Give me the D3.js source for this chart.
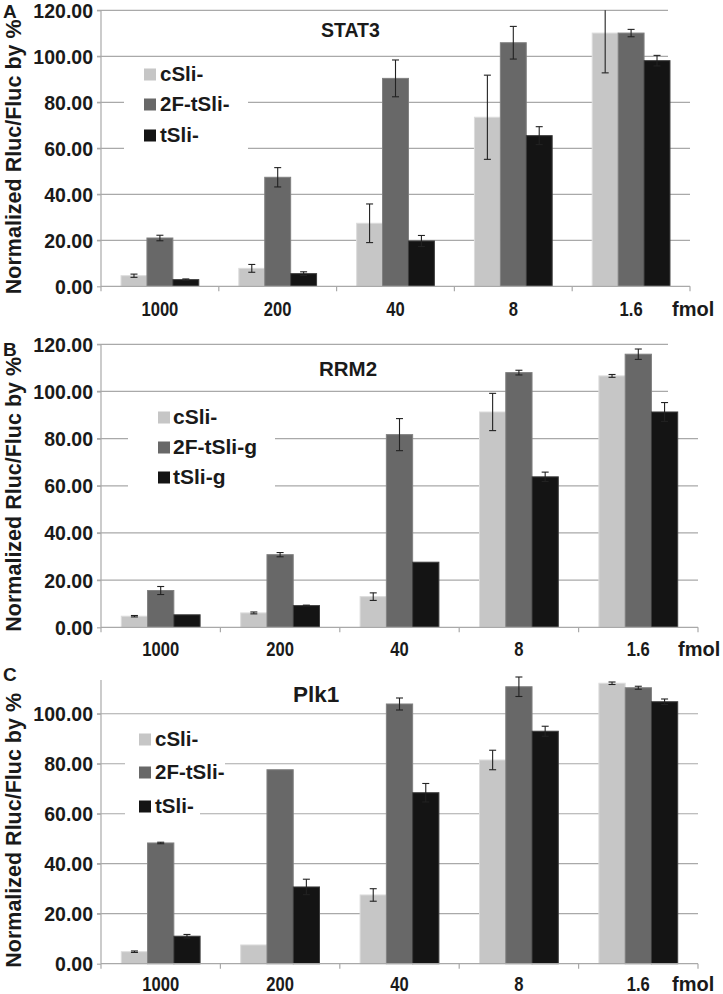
<!DOCTYPE html>
<html>
<head>
<meta charset="utf-8">
<script src="https://cdn.jsdelivr.net/npm/d3@7/dist/d3.min.js"></script>
<style>
  html, body { margin: 0; padding: 0; background: #fff; }
  svg { display: block; }
  text { font-family: "Liberation Sans", Arial, "DejaVu Sans", sans-serif; font-weight: bold; fill: #1a1a1a; }
</style>
</head>
<body>
<svg id="chart" width="723" height="994"></svg>
<script>
// ---------------- DATA ----------------
const categories = ["1000", "200", "40", "8", "1.6"];
const unitLabel = "fmol";
const yTicksAB = [0, 20, 40, 60, 80, 100, 120];
const yTicksC = [0, 20, 40, 60, 80, 100];
const yTitle = "Normalized Rluc/Fluc by %";

// Panel A: STAT3
const seriesA = ["cSli-", "2F-tSli-", "tSli-"];
const valuesA_cSli = [4.6, 7.8, 27.4, 73.5, 110.1];
const errA_cSli    = [0.7, 1.7, 8.4, 18.3, 17.3];
const valuesA_2F   = [21.0, 47.4, 90.4, 105.9, 110.1];
const errA_2F      = [1.2, 4.2, 8.0, 7.1, 1.6];
const valuesA_tSli = [2.9, 5.5, 19.7, 65.5, 98.1];
const errA_tSli    = [0.3, 0.8, 2.4, 3.9, 2.3];

// Panel B: RRM2
const seriesB = ["cSli-", "2F-tSli-g", "tSli-g"];
const valuesB_cSli = [4.7, 6.1, 13.0, 91.3, 106.6];
const errB_cSli    = [0.3, 0.4, 1.6, 7.9, 0.6];
const valuesB_2F   = [15.6, 30.8, 81.7, 108.0, 115.8];
const errB_2F      = [1.7, 0.9, 6.8, 1.0, 2.2];
const valuesB_tSli = [5.3, 9.2, 27.6, 63.8, 91.3];
const errB_tSli    = [0, 0.2, 0, 2.0, 4.0];

// Panel C: Plk1
const seriesC = ["cSli-", "2F-tSli-", "tSli-"];
const valuesC_cSli = [4.8, 7.5, 27.5, 81.5, 112.2];
const errC_cSli    = [0.3, 0, 2.5, 3.9, 0.5];
const valuesC_2F   = [48.3, 77.6, 103.9, 110.8, 110.4];
const errC_2F      = [0.3, 0, 2.4, 3.9, 0.6];
const valuesC_tSli = [11.0, 30.7, 68.4, 93.0, 104.8];
const errC_tSli    = [0.7, 3.1, 3.7, 2.0, 1.1];

// ---------------- STYLE / LAYOUT ----------------
const fills   = ["#c6c6c6", "#686868", "#141414"];
const strokes = ["#dcdcdc", "#808080", "#3c3c3c"];
const gridColor = "#a9a9a9";

const panels = [
  { letter: "A", title: "STAT3", series: seriesA,
    values: [valuesA_cSli, valuesA_2F, valuesA_tSli], errs: [errA_cSli, errA_2F, errA_tSli],
    ticks: yTicksAB, ymax: 120, errClip: 120, top: 10.3, bottom: 286.3, left: 101, right: 690, shortTopEnd: 668,
    letterY: 18, titleX: 321, titleY: 37, titleSize: 19.5, labelDy: 29.5,
    leg: { box: [[124, 60, 248, 150]], swX: 144, txtX: 160, rows: [81, 111, 142], size: 20.5 },
    fmolX: 672 },
  { letter: "B", title: "RRM2", series: seriesB,
    values: [valuesB_cSli, valuesB_2F, valuesB_tSli], errs: [errB_cSli, errB_2F, errB_tSli],
    ticks: yTicksAB, ymax: 120, errClip: 130, top: 344.3, bottom: 627.3, left: 101, right: 698, shortTopEnd: 668,
    letterY: 356, titleX: 319, titleY: 376, titleSize: 20.5, labelDy: 28.5,
    leg: { box: [[128, 400, 275, 490]], swX: 158, txtX: 173, rows: [424, 454, 484], size: 21 },
    fmolX: 678 },
  { letter: "C", title: "Plk1", series: seriesC,
    values: [valuesC_cSli, valuesC_2F, valuesC_tSli], errs: [errC_cSli, errC_2F, errC_tSli],
    ticks: yTicksC, ymax: 113.5, errClip: 130, top: 680, bottom: 963.7, left: 101, right: 698, shortTopEnd: null,
    letterY: 681, titleX: 293, titleY: 702, titleSize: 22.5, labelDy: 27,
    leg: { box: [[125, 720, 225, 790], [125, 790, 200, 818]], swX: 139, txtX: 155, rows: [746, 779, 813], size: 20.5 },
    fmolX: 672 }
];

const svg = d3.select("#chart");

panels.forEach(p => {
  const g = svg.append("g");
  const x = d3.scaleBand().domain(categories).range([p.left, p.right]).paddingInner(0).paddingOuter(0);
  const y = d3.scaleLinear().domain([0, p.ymax]).range([p.bottom, p.top]);
  const bw = x.bandwidth() * 0.22;
  const groupOffset = (x.bandwidth() - 3 * bw) / 2;

  // gridlines
  p.ticks.filter(t => t > 0).forEach(t => {
    const end = (p.shortTopEnd && t >= 100) ? p.shortTopEnd : p.right;
    g.append("line")
      .attr("x1", p.left - 4).attr("x2", end)
      .attr("y1", y(t)).attr("y2", y(t))
      .attr("stroke", gridColor).attr("stroke-width", 1.2);
  });

  // legend box (covers gridlines)
  p.leg.box.forEach(b => {
    g.append("rect").attr("x", b[0]).attr("y", b[1]).attr("width", b[2] - b[0]).attr("height", b[3] - b[1])
      .attr("fill", "#fff");
  });

  // bars
  p.values.forEach((vals, si) => {
    g.selectAll(null).data(vals).enter().append("rect")
      .attr("x", (d, i) => x(categories[i]) + groupOffset + si * bw)
      .attr("y", d => y(d))
      .attr("width", bw)
      .attr("height", d => y(0) - y(d))
      .attr("fill", fills[si])
      .attr("stroke", strokes[si]).attr("stroke-width", 1);
  });

  // error bars
  p.values.forEach((vals, si) => {
    vals.forEach((v, i) => {
      const e = p.errs[si][i];
      if (!e) return;
      const cx = x(categories[i]) + groupOffset + si * bw + bw / 2;
      const hiV = v + e, loV = v - e;
      const clipped = hiV > p.errClip;
      const yHi = y(Math.min(hiV, p.errClip)), yLo = y(Math.max(loV, 0));
      g.append("line").attr("x1", cx).attr("x2", cx).attr("y1", yHi).attr("y2", yLo)
        .attr("stroke", "#222").attr("stroke-width", 1.1);
      if (!clipped) g.append("line").attr("x1", cx - 3.5).attr("x2", cx + 3.5).attr("y1", yHi).attr("y2", yHi)
        .attr("stroke", "#222").attr("stroke-width", 1.1);
      g.append("line").attr("x1", cx - 3.5).attr("x2", cx + 3.5).attr("y1", yLo).attr("y2", yLo)
        .attr("stroke", "#222").attr("stroke-width", 1.1);
    });
  });

  // y axis
  const yAxis = d3.axisLeft(y).tickValues(p.ticks).tickSize(4).tickPadding(4).tickFormat(d3.format(".2f"));
  const ya = g.append("g").attr("transform", `translate(${p.left},0)`).call(yAxis);
  ya.select(".domain").attr("stroke", gridColor).attr("stroke-width", 1.2)
    .attr("d", `M0,${p.top}V${p.bottom}`);
  ya.selectAll(".tick line").attr("stroke", gridColor).attr("stroke-width", 1.2);
  ya.selectAll(".tick text").attr("font-size", 19.5).attr("dy", "0.36em")
    .style("font-family", '"Liberation Sans", Arial, sans-serif').style("font-weight", "bold").attr("fill", "#1a1a1a");

  // x axis
  const xa = g.append("g").attr("transform", `translate(0,${p.bottom})`);
  xa.append("line").attr("x1", p.left).attr("x2", p.right).attr("y1", 0).attr("y2", 0)
    .attr("stroke", gridColor).attr("stroke-width", 1.2);
  const bounds = categories.map(c => x(c)).concat([p.right]);
  bounds.forEach(bx => {
    xa.append("line").attr("x1", bx).attr("x2", bx).attr("y1", 0).attr("y2", 5)
      .attr("stroke", gridColor).attr("stroke-width", 1.2);
  });
  categories.forEach(c => {
    const cx = x(c) + x.bandwidth() / 2;
    xa.append("text")
      .attr("transform", `translate(${cx},${p.labelDy}) scale(0.83,1)`)
      .attr("text-anchor", "middle").attr("font-size", 20).text(c);
  });
  xa.append("text").attr("x", p.fmolX).attr("y", p.labelDy).attr("font-size", 20).text(unitLabel);

  // y title
  g.append("text")
    .attr("transform", `translate(20.5,${(p.top + p.bottom) / 2 + 8.5}) rotate(-90)`)
    .attr("text-anchor", "middle").attr("font-size", 21.5).text(yTitle);

  // panel letter
  g.append("text").attr("x", 3).attr("y", p.letterY).attr("font-size", 19).text(p.letter);

  // title
  g.append("text").attr("x", p.titleX).attr("y", p.titleY).attr("font-size", p.titleSize).text(p.title);

  // legend entries
  p.series.forEach((s, si) => {
    const by = p.leg.rows[si];
    g.append("rect").attr("x", p.leg.swX).attr("y", by - 12.5).attr("width", 12).attr("height", 12)
      .attr("fill", fills[si]);
    g.append("text").attr("x", p.leg.txtX).attr("y", by).attr("font-size", p.leg.size).text(s);
  });
});
</script>
</body>
</html>
